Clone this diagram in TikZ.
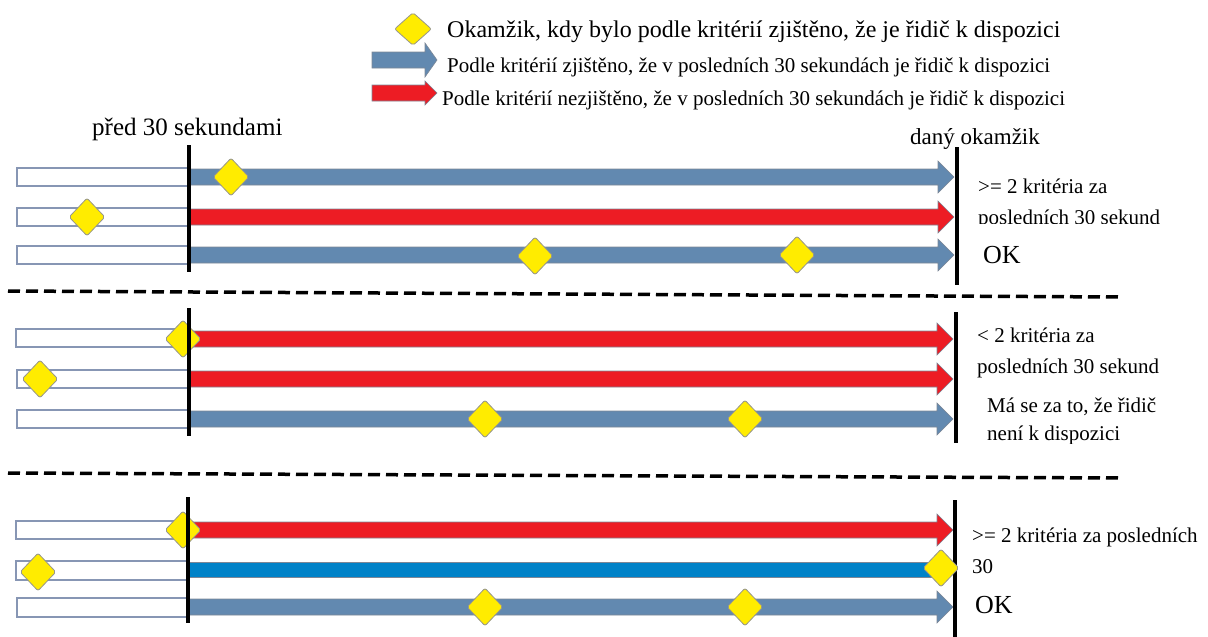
\documentclass[tikz,border=0pt]{standalone}
\usepackage{fontspec}
\setmainfont{Liberation Serif}
\usetikzlibrary{shapes.geometric}
\definecolor{steel}{RGB}{98,137,176}
\definecolor{redarr}{RGB}{237,28,36}
\definecolor{brightblue}{RGB}{0,130,200}
\definecolor{yel}{RGB}{255,236,0}
\definecolor{diaedge}{RGB}{150,150,140}
\definecolor{arredge}{RGB}{125,135,150}
\definecolor{boxedge}{RGB}{135,150,180}
\tikzset{
  whitebox/.style={fill=white,draw=boxedge,line width=1.1pt},
  moment/.style={shape=diamond,fill=yel,draw=diaedge,line width=0.8pt,inner sep=0pt,
    minimum width=36pt,minimum height=38pt,rounded corners=2pt},
  timeline/.style={line width=4pt,black},
  sep/.style={line width=3.5pt,black,dash pattern=on 12pt off 6pt},
  lbl/.style={inner sep=0pt,anchor=base west,font=\fontsize{21}{24}\selectfont},
}
% arrow: colour, x start, x tip, y centre, shaft half, head half, head length
\newcommand\harr[7]{%
  \filldraw[fill=#1,draw=arredge,line width=0.6pt]
   (#2,{#4-#5}) -- ({#3-#7},{#4-#5}) -- ({#3-#7},{#4-#6}) -- (#3,#4)
   -- ({#3-#7},{#4+#6}) -- ({#3-#7},{#4+#5}) -- (#2,{#4+#5}) -- cycle;}
\newcommand\wbox[2]{\draw[whitebox] (#1,{#2-9}) rectangle (188,{#2+9});}
\begin{document}
\begin{tikzpicture}[x=1pt,y=-1pt]
\useasboundingbox (0,0) rectangle (1208,637);
% ---------------- legend
\node[moment,minimum width=37pt,minimum height=33pt] (legdia) at (413,29) {};
\node[lbl,font=\fontsize{24}{28}\selectfont] (legt1) at (447,37) {Okamžik, kdy bylo podle kritérií zjištěno, že je řidič k dispozici};
\harr{steel}{372}{437}{60}{8}{17}{12}
\node[lbl] (legt2) at (447,72) {Podle kritérií zjištěno, že v posledních 30 sekundách je řidič k dispozici};
\harr{redarr}{372}{437}{93}{8}{12}{12}
\node[lbl] (legt3) at (442,105) {Podle kritérií nezjištěno, že v posledních 30 sekundách je řidič k dispozici};
% ---------------- headings
\node[lbl,font=\fontsize{25}{28}\selectfont] (before) at (92,135) {před 30 sekundami};
\node[lbl,font=\fontsize{23}{26}\selectfont] (now) at (910,144) {daný okamžik};
% ---------------- section 1
\wbox{17}{177}\wbox{17}{217}\wbox{17}{255}
\harr{steel}{189}{954}{177}{8}{16}{16}
\harr{redarr}{189}{954}{217}{8}{16}{16}
\harr{steel}{189}{954}{255}{8}{16}{16}
\node[moment] (d11) at (231,177) {};
\node[moment] (d12) at (87,217) {};
\node[moment] (d13) at (535,256) {};
\node[moment] (d14) at (797,255) {};
\coordinate (l1t) at (189,145); \coordinate (l1b) at (189,272);
\coordinate (r1t) at (957,147); \coordinate (r1b) at (957,285);
\draw[timeline] (l1t) -- (l1b);
\draw[timeline] (r1t) -- (r1b);
\node[lbl] (t11) at (978,193) {>= 2 kritéria za};
\begin{scope}
\clip (965,200) rectangle (1208,223.5);
\node[lbl] (t12) at (978,224) {posledních 30 sekund};
\end{scope}
\node[lbl,font=\fontsize{26}{28}\selectfont] (t13) at (983,263) {OK};
% separator 1
\coordinate (s1a) at (8,291); \coordinate (s1b) at (1120,297);
\draw[sep] (s1a) -- (s1b);
% ---------------- section 2
\draw[whitebox] (16,329) rectangle (188,347);
\wbox{17}{379}\wbox{17}{419}
\harr{redarr}{189}{953}{339}{8}{16}{16}
\harr{redarr}{189}{953}{379}{8}{16}{16}
\harr{steel}{189}{953}{419}{8}{16}{16}
\node[moment] (d21) at (183,339) {};
\node[moment] (d22) at (40,379) {};
\node[moment] (d23) at (485,419) {};
\node[moment] (d24) at (745,419) {};
\coordinate (l2t) at (189,308); \coordinate (l2b) at (189,436);
\coordinate (r2t) at (956,312); \coordinate (r2b) at (956,443);
\draw[timeline] (l2t) -- (l2b);
\draw[timeline] (r2t) -- (r2b);
\node[lbl] (t21) at (977,342) {< 2 kritéria za};
\node[lbl] (t22) at (977,373) {posledních 30 sekund};
\node[lbl] (t23) at (987,412) {Má se za to, že řidič};
\begin{scope}
\clip (965,420) rectangle (1208,443);
\node[lbl] (t24) at (987,440) {není k dispozici};
\end{scope}
% separator 2
\coordinate (s2a) at (8,473); \coordinate (s2b) at (1120,478);
\draw[sep] (s2a) -- (s2b);
% ---------------- section 3
\draw[whitebox] (16,521) rectangle (188,539);
\draw[whitebox] (16,561) rectangle (188,580);
\draw[whitebox] (17,598) rectangle (188,617);
\harr{redarr}{189}{953}{530}{8}{16}{16}
\fill[brightblue,draw=arredge,line width=0.6pt] (189,562) rectangle (945,577);
\harr{steel}{189}{953}{607}{8}{16}{16}
\node[moment] (d31) at (183,530) {};
\node[moment] (d32) at (38,572) {};
\node[moment] (d33) at (485,607) {};
\node[moment] (d34) at (745,607) {};
\coordinate (l3t) at (188,497); \coordinate (l3b) at (188,623);
\coordinate (r3t) at (955,500); \coordinate (r3b) at (955,637);
\draw[timeline] (l3t) -- (l3b);
\draw[timeline] (r3t) -- (r3b);
\node[moment] (d35) at (941,568) {};
\node[lbl] (t31) at (972,542) {>= 2 kritéria za posledních};
\node[lbl] (t32) at (972,573) {30};
\node[lbl,font=\fontsize{26}{28}\selectfont] (t33) at (975,613) {OK};
\end{tikzpicture}
\end{document}
